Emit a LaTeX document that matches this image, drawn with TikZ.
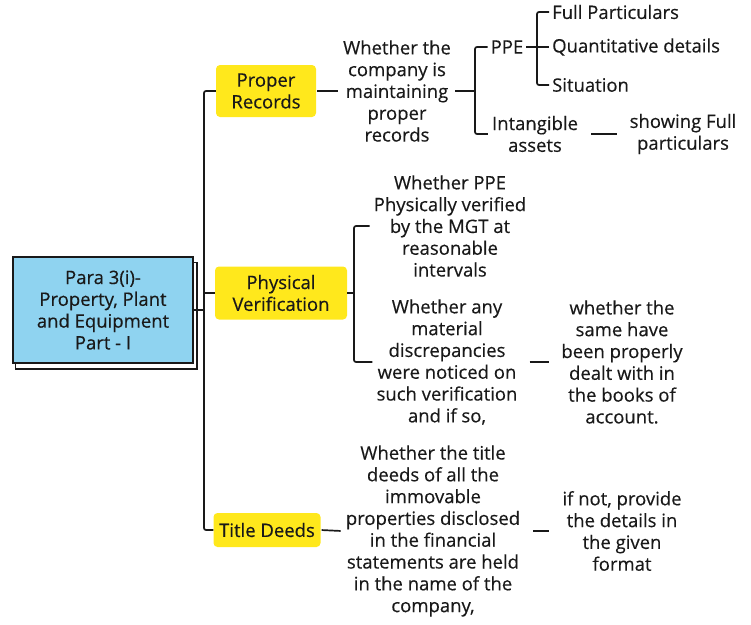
\documentclass[tikz,border=0pt]{standalone}
\usepackage{fontspec}
\setmainfont{Open Sans}[FakeBold=0.35]
\usetikzlibrary{backgrounds}
\definecolor{marker}{RGB}{255,232,28}
\definecolor{skyfill}{RGB}{143,211,240}
\definecolor{ink}{RGB}{25,25,25}
\begin{document}
\begin{tikzpicture}[x=1pt,y=-1pt,
  every node/.style={font=\fontsize{18.5}{21.8}\selectfont, text=ink},
  wire/.style={draw=ink, line width=1.7pt, rounded corners=2pt},
  hl/.style={fill=marker, rounded corners=4pt, inner sep=0pt, align=center},
  txt/.style={align=center, inner sep=4pt},
  item/.style={anchor=west, inner sep=3pt},
  gap/.style={shorten <=#1, shorten >=#1}
]
\useasboundingbox (0,0) rectangle (751,624);

% root box with its offset outline
\node[draw=ink, line width=1.5pt, fill=skyfill, minimum width=180pt,
      minimum height=106pt, align=center] (main) at (103,310)
  {Para 3(i)-\\Property, Plant\\and Equipment\\Part - I};
\begin{scope}[on background layer]
  \draw[fill=white, draw=ink, line width=1.5pt]
    ([shift={(3,6)}]main.north west) rectangle ([shift={(3,5)}]main.south east);
\end{scope}

% highlighted headings
\node[hl, minimum width=100pt, minimum height=52pt] (pr) at (266,91) {Proper\\Records};
\node[hl, minimum width=132pt, minimum height=53pt] (pv) at (281,293) {Physical\\Verification};
\node[hl, minimum width=107pt, minimum height=34pt] (td) at (267,530) {Title Deeds};

% Proper Records branch
\node[txt] (q1) at (397,91) {Whether the\\company is\\maintaining\\proper\\records};
\node[inner sep=3pt] (ppe) at (507,47) {PPE};
\node[item] (fp) at (549,12) {Full Particulars};
\node[item] (qd) at (549,47) {Quantitative details};
\node[item] (sit) at (549,85) {Situation};
\node[txt] (ia) at (535,134) {Intangible\\assets};
\node[txt] (sf) at (683,134) {showing Full\\particulars};

% Physical Verification branch
\node[txt] (w1) at (450,226) {Whether PPE\\Physically verified\\by the MGT at\\reasonable\\intervals};
\node[txt] (w2) at (447,362) {Whether any\\material\\discrepancies\\were noticed on\\such verification\\and if so,};
\node[txt] (w3) at (622,362) {whether the\\same have\\been properly\\dealt with in\\the books of\\account.};

% Title Deeds branch
\node[txt] (t1) at (433,531) {Whether the title\\deeds of all the\\immovable\\properties disclosed\\in the financial\\statements are held\\in the name of the\\company,};
\node[txt] (t2) at (622,531) {if not, provide\\the details in\\the given\\format};

% bracket spines
\coordinate (tb) at (204,530);
\coordinate (b1) at (475,91);
\coordinate (b2) at (537,47);
\coordinate (b3) at (354,293);

% trunk
\draw[wire] (pr.west) -| (tb) -- (td.west);
\draw[wire] (main.east) -- (main.east -| tb);
\draw[wire] (pv.west) -- (pv.west -| tb);

% Proper Records connectors
\draw[wire, gap=1pt] (pr.east) -- (q1.west);
\draw[wire] (q1.east) -- (q1.east -| b1);
\draw[wire] (ppe.west) -| (b1) |- (ia.west);
\draw[wire] (ppe.east) -- (qd.west);
\draw[wire] (fp.west) -| (b2) |- (sit.west);
\draw[wire, gap=9pt] (ia.east) -- (sf.west);

% Physical Verification connectors
\draw[wire] (pv.east) -- (pv.east -| b3);
\draw[wire] (w1.west) -| (b3) |- (w2.west);
\draw[wire, gap=8pt] (w2.east) -- (w3.west);

% Title Deeds connectors
\draw[wire, gap=1pt] (td.east) -- (t1.west);
\draw[wire, gap=9pt] (t1.east) -- (t2.west);
\end{tikzpicture}
\end{document}
